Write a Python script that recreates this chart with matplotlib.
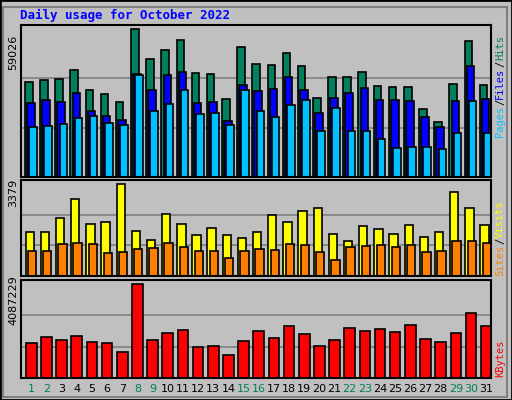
import matplotlib
matplotlib.use("Agg")
import matplotlib.pyplot as plt
from matplotlib.patches import Rectangle
import numpy as np

days = list(range(1, 32))
weekend = [1, 2, 8, 9, 15, 16, 22, 23, 29, 30]
hits = [37740, 38540, 38950, 42560, 34530, 32920, 30110, 59026, 46980, 50590, 54600, 41350, 40950, 30920, 51790, 44970, 44570, 49380, 44170, 31320, 39750, 39750, 41760, 36140, 35730, 35730, 27300, 22080, 36940, 54200, 36540]
files = [29700, 30900, 30100, 33700, 26500, 24500, 22900, 41000, 34900, 40600, 41800, 29700, 30100, 22500, 36500, 34500, 35300, 39700, 34900, 25700, 31700, 33700, 35700, 30900, 30900, 30500, 24100, 20100, 30500, 44100, 31300]
pages = [20100, 20500, 21300, 23700, 24500, 21700, 20900, 40600, 26500, 29300, 34900, 25300, 25700, 20900, 34900, 26500, 24100, 28900, 30900, 18500, 27700, 18500, 18500, 15300, 11600, 12000, 12000, 11200, 17700, 30500, 17700]
visits = [1600, 1600, 2120, 2820, 1900, 1970, 3379, 1670, 1340, 2270, 1900, 1490, 1750, 1490, 1410, 1600, 2230, 1970, 2380, 2490, 1530, 1300, 1820, 1710, 1530, 1860, 1450, 1600, 3080, 2490, 1860]
sites = [930, 930, 1190, 1230, 1190, 860, 890, 1000, 1040, 1230, 1080, 930, 930, 670, 930, 1000, 970, 1190, 1150, 890, 590, 1080, 1110, 1150, 1080, 1150, 890, 930, 1300, 1300, 1230]
kbytes = [1510000, 1780000, 1640000, 1820000, 1550000, 1510000, 1110000, 4087229, 1640000, 1950000, 2090000, 1330000, 1380000, 980000, 1600000, 2040000, 1730000, 2270000, 1910000, 1380000, 1640000, 2180000, 2040000, 2130000, 2000000, 2310000, 1690000, 1550000, 1950000, 2850000, 2270000]

BG = "#C0C0C0"
fig = plt.figure(figsize=(5.12, 4.0), dpi=100, facecolor=BG)
W, H = 512, 400
fig.add_artist(Rectangle((0, 0), 1, 1, transform=fig.transFigure, fill=False, ec="black", lw=2))
fig.add_artist(Rectangle((3/W, 3/H), 1-8/W, 1-10/H, transform=fig.transFigure, fill=False, ec="#808080", lw=1.5))

def mkax(top, bottom, plotbottom, vmax, plottop):
    ax = fig.add_axes([21/W, 1-bottom/H, 470/W, (bottom-top)/H])
    ax.set_facecolor(BG)
    ax.set_xlim(0, 31)
    ax.set_ylim(0, vmax*(plotbottom-top)/(plotbottom-plottop))
    ax.set_xticks([]); ax.set_yticks([])
    for s in ax.spines.values():
        s.set_color("black"); s.set_linewidth(1.5)
    for f in (1/3, 2/3):
        ax.axhline(vmax*f, color="#808080", lw=1.2, zorder=0)
    return ax

x = np.arange(31)
ax1 = mkax(25, 177, 176, max(hits), 29)
kw = dict(align="edge", edgecolor="black", linewidth=1.2, width=0.5)
ax1.bar(x+0.26, hits, color="#00805C", **kw)
ax1.bar(x+0.40, files, color="#0000FF", **kw)
ax1.bar(x+0.54, pages, color="#00C0FF", **kw)

ax2 = mkax(180, 276, 275, max(visits), 184)
ax2.bar(x+0.30, visits, color="#FFFF00", align="edge", edgecolor="black", linewidth=1.2, width=0.55)
ax2.bar(x+0.46, sites, color="#FF8000", align="edge", edgecolor="black", linewidth=1.2, width=0.55)

ax3 = mkax(280, 378, 376, max(kbytes), 284)
ax3.bar(x+0.33, kbytes, color="#FF0000", align="edge", edgecolor="black", linewidth=1.2, width=0.7)

mono = "DejaVu Sans Mono"
fig.text(20/W, 1-15/H, "Daily usage for October 2022", color="#0000FF", fontsize=9, fontweight="bold", family=mono, va="center")
for y, s in [(52, "59026"), (193, "3379"), (300, "4087229")]:
    fig.text(13/W, 1-y/H, s, rotation=90, fontsize=8, va="center", ha="center")
for d in days:
    fig.text((21+(d-1+0.68)*470/31)/W, 1-389/H, str(d), fontsize=8, ha="center", va="center",
             color="#00805C" if d in weekend else "black")

def rlabel(parts, ybottom):
    y = ybottom
    for txt, col in parts:
        h = len(txt)*6.0
        fig.text(500/W, 1-(y-h/2)/H, txt, rotation=90, color=col, fontsize=7.5, family=mono, ha="center", va="center")
        y -= h + 1
rlabel([("Pages", "#00C0FF"), ("/", "black"), ("Files", "#0000FF"), ("/", "black"), ("Hits", "#00805C")], 136)
rlabel([("Sites", "#FF8000"), ("/", "black"), ("Visits", "#FFFF00")], 275)
rlabel([("KBytes", "#FF0000")], 376)

fig.savefig("out.png", dpi=100, facecolor=BG)
